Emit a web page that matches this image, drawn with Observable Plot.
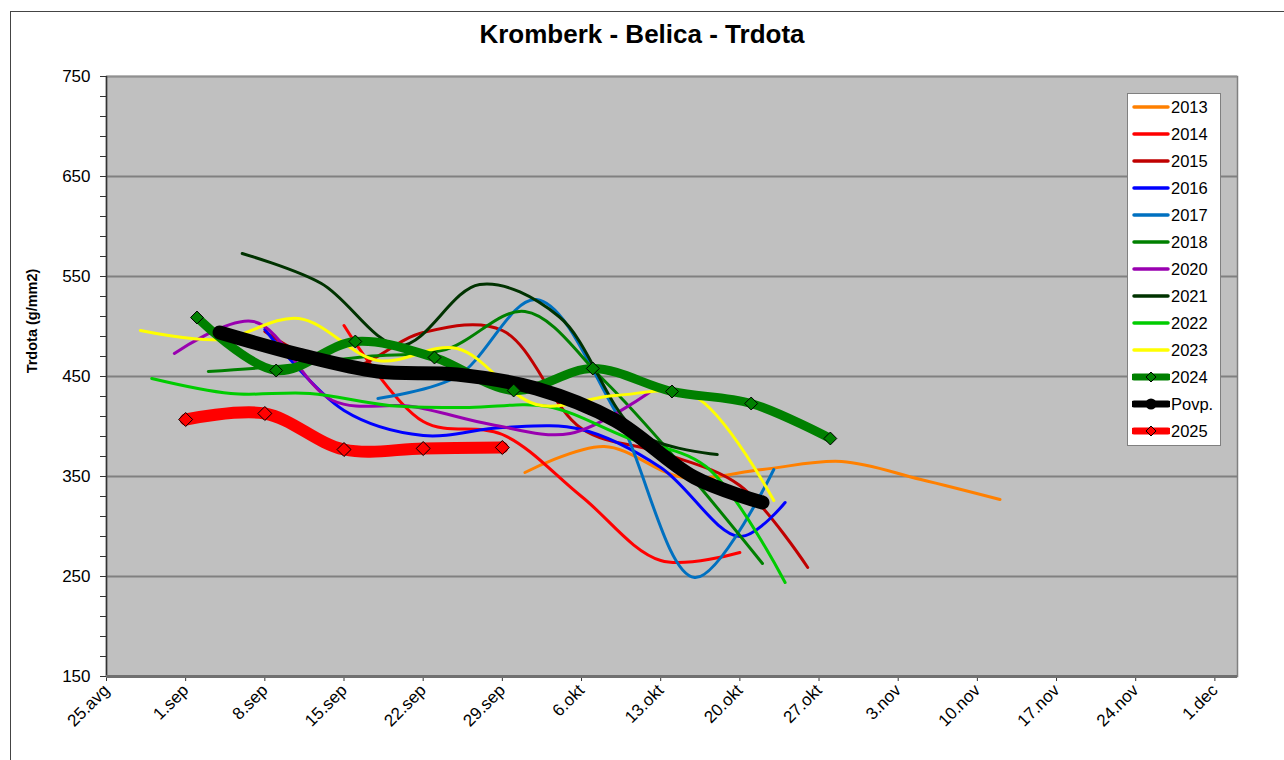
<!DOCTYPE html>
<html>
<head>
<meta charset="utf-8">
<script src="https://cdn.jsdelivr.net/npm/d3@7"></script>
<script src="https://cdn.jsdelivr.net/npm/@observablehq/plot@0.6"></script>
<style>
  body { margin: 0; background: #fff; font-family: Arial, "Liberation Sans", sans-serif; }
  #wrap { position: relative; width: 1284px; height: 760px; overflow: hidden; }
  #frame { position: absolute; left: 10px; top: 11px; width: 1300px; height: 800px; border: 1px solid #444; }
  #chart { position: absolute; left: 0; top: 0; }
  #chart svg text { font-size: 17px !important; fill: #000; }
  #title { position: absolute; left: 0; width: 1284px; top: 19px; text-align: center; font-size: 26px; font-weight: bold; color: #000; }
  #ylab { position: absolute; left: 32px; top: 321px; transform: translate(-50%, -50%) rotate(-90deg); font-size: 14.5px; font-weight: bold; white-space: nowrap; }
  #legend { position: absolute; left: 1127px; top: 93px; width: 94px; height: 353px; background: #fff; border: 1px solid #808080; box-sizing: border-box; }
  .li { position: absolute; left: 4px; height: 20px; display: flex; align-items: center; font-size: 16.5px; }
  .li svg { margin-right: 1px; }
</style>
</head>
<body>
<div id="wrap">
  <div id="frame"></div>
  <div id="chart"></div>
  <div id="title">Kromberk - Belica - Trdota</div>
  <div id="ylab">Trdota (g/mm2)</div>
  <div id="legend"></div>
</div>
<script>
// ---- tick labels (x axis: days since 25 Aug, weekly) ----
const weekLabels = ["25.avg","1.sep","8.sep","15.sep","22.sep","29.sep","6.okt","13.okt","20.okt","27.okt","3.nov","10.nov","17.nov","24.nov","1.dec"];
const yMajor = [150, 250, 350, 450, 550, 650, 750];

// ---- series (day = days after 25 Aug) ----
const names = ["2013","2014","2015","2016","2017","2018","2020","2021","2022","2023","2024","Povp.","2025"];
const colors = ["#FF8000","#FF0000","#C00000","#0000FF","#0070C0","#008000","#9900B0","#003300","#00CC00","#FFFF00","#008000","#000000","#FF0000"];

const days2013 = [37, 44, 51, 58, 65, 72, 79];
const vals2013 = [354, 380, 349, 357, 365, 347, 327];
const days2014 = [21, 28, 35, 42, 49, 56];
const vals2014 = [501, 405, 392, 330, 266, 274];
const days2015 = [14, 21, 28, 35, 42, 49, 56, 62];
const vals2015 = [495, 458, 494, 496, 398, 374, 341, 259];
const days2016 = [14, 21, 28, 35, 42, 49, 56, 60];
const vals2016 = [497, 416, 391, 399, 397, 359, 290, 324];
const days2017 = [24, 31, 38, 45, 52, 59];
const vals2017 = [428, 450, 527, 415, 249, 357];
const days2018 = [9, 16, 23, 30, 37, 44, 51, 58];
const vals2018 = [455, 461, 470, 477, 515, 446, 359, 263];
const days2020 = [6, 13, 20, 27, 34, 41, 48];
const vals2020 = [473, 505, 426, 420, 402, 393, 434];
const days2021 = [12, 19, 26, 33, 40, 47, 54];
const vals2021 = [573, 543, 481, 542, 510, 394, 372];
const days2022 = [4, 11, 18, 25, 32, 39, 46, 53, 60];
const vals2022 = [448, 433, 433, 421, 419, 420, 389, 360, 244];
const days2023 = [3, 10, 17, 24, 31, 38, 45, 52, 59];
const vals2023 = [496, 487, 508, 466, 478, 422, 431, 430, 326];
const days2024 = [8, 15, 22, 29, 36, 43, 50, 57, 64];
const vals2024 = [509, 456, 485, 469, 436, 458, 435, 423, 388];
const daysPovp = [10, 17, 24, 31, 38, 45, 52, 58];
const valsPovp = [494, 472, 455, 452, 438, 406, 349, 324];
const days2025 = [7, 14, 21, 28, 35];
const vals2025 = [407, 413, 377, 378, 379];

const seriesDays = [days2013, days2014, days2015, days2016, days2017, days2018, days2020, days2021, days2022, days2023, days2024, daysPovp, days2025];
const seriesVals = [vals2013, vals2014, vals2015, vals2016, vals2017, vals2018, vals2020, vals2021, vals2022, vals2023, vals2024, valsPovp, vals2025];
const widths = [3, 3, 3, 3, 3, 3, 3, 3, 3, 3, 9, 14, 12];
const markerSeries = ["2024", "2025"];

const rows = names.flatMap((name, i) => seriesDays[i].map((d, j) => ({name, day: d, value: seriesVals[i][j]})));

const lineMarks = names.map((name, i) =>
  Plot.line(rows.filter(r => r.name === name), {
    x: "day", y: "value", stroke: colors[i], strokeWidth: widths[i],
    curve: "catmull-rom", strokeLinecap: "round", strokeLinejoin: "round"
  })
);
const markerMarks = markerSeries.map(name => {
  const i = names.indexOf(name);
  return Plot.dot(rows.filter(r => r.name === name), {
    x: "day", y: "value", symbol: "diamond2", r: name === "2025" ? 6.3 : 5.8,
    fill: colors[i], stroke: "#000", strokeWidth: 1
  });
});

const chart = Plot.plot({
  width: 1284, height: 760,
  marginLeft: 106, marginRight: 47, marginTop: 76, marginBottom: 84,
  style: { fontFamily: "Arial, 'Liberation Sans', sans-serif", fontSize: "17px", color: "#000", background: "transparent" },
  x: { domain: [0, 100] },
  y: { domain: [150, 750] },
  marks: [
    Plot.frame({ fill: "#C0C0C0", stroke: "#808080", strokeWidth: 1.5 }),
    Plot.gridY([250, 350, 450, 550, 650], { stroke: "#808080", strokeOpacity: 1, strokeWidth: 2 }),
    Plot.ruleY([750], { stroke: "#909090", strokeWidth: 2 }),
    Plot.axisY(d3.range(150, 751, 20), { tickSize: 6, tickFormat: () => "", label: null, stroke: "#333" }),
    Plot.axisY(yMajor, { tickSize: 6, tickPadding: 10, label: null, fontSize: 17, stroke: "#333" }),
    Plot.axisX(weekLabels.map((_, i) => i * 7), {
      tickSize: 5, tickPadding: 6, tickRotate: -45, label: null, fontSize: 17,
      tickFormat: d => weekLabels[d / 7], stroke: "#333"
    }),
    Plot.ruleX([0], { stroke: "#333", strokeWidth: 1.5 }),
    Plot.ruleY([150], { stroke: "#707070", strokeWidth: 3 }),
    ...lineMarks,
    ...markerMarks
  ]
});
document.getElementById("chart").appendChild(chart);

// ---- legend ----
const legend = document.getElementById("legend");
names.forEach((name, i) => {
  const row = document.createElement("div");
  row.className = "li";
  row.style.top = (3 + i * 27) + "px";
  const thick = widths[i] > 5;
  const sw = thick ? 7 : 3.5;
  let marker = "";
  if (name === "Povp.") marker = `<circle cx="19" cy="10" r="5.5" fill="#000"/>`;
  else if (markerSeries.includes(name)) marker = `<path d="M19 5 L24 10 L19 15 L14 10 Z" fill="${colors[i]}" stroke="#000" stroke-width="1"/>`;
  row.innerHTML = `<svg width="38" height="20"><line x1="2" x2="36" y1="10" y2="10" stroke="${colors[i]}" stroke-width="${sw}" stroke-linecap="round"/>${marker}</svg><span>${name}</span>`;
  legend.appendChild(row);
});
</script>
</body>
</html>
